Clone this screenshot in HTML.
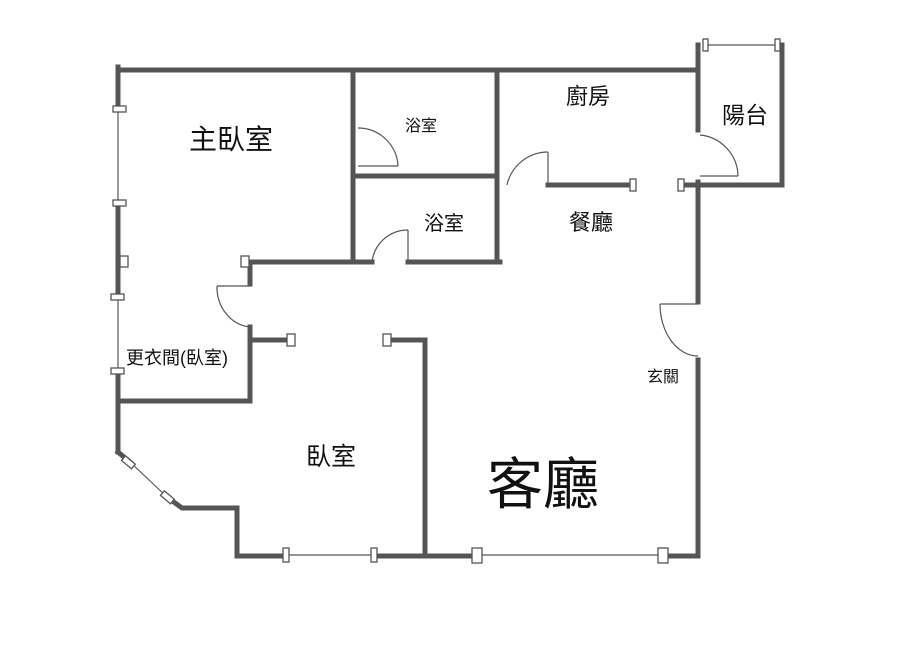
<!DOCTYPE html>
<html><head><meta charset="utf-8"><style>
html,body{margin:0;padding:0;background:#fff;}
svg{display:block}
text{font-family:"Liberation Sans","Noto Sans CJK TC",sans-serif;fill:#111}
</style></head><body>
<svg width="900" height="649" viewBox="0 0 900 649" xmlns="http://www.w3.org/2000/svg">
<g stroke="#555" stroke-width="5" fill="none" stroke-linecap="square">
<!-- top wall -->
<line x1="118" y1="70" x2="698" y2="70"/>
<!-- left wall segments -->
<line x1="118" y1="67" x2="118" y2="110"/>
<line x1="118" y1="204" x2="118" y2="292"/>
<line x1="118" y1="372" x2="118" y2="452"/>
<polyline points="118,452 130,462"/>
<polyline points="167,497 182,508 237,508 237,556 285,556"/>
<line x1="373" y1="556" x2="476" y2="556"/>
<line x1="663" y1="556" x2="698" y2="556"/>
<!-- interior -->
<line x1="353" y1="70" x2="353" y2="262"/>
<line x1="497" y1="70" x2="497" y2="262"/>
<line x1="353" y1="176" x2="497" y2="176"/>
<line x1="250" y1="262" x2="372" y2="262"/>
<line x1="408" y1="262" x2="500" y2="262"/>
<line x1="548" y1="185" x2="632" y2="185"/>
<line x1="682" y1="185" x2="782" y2="185"/>
<line x1="698" y1="70" x2="698" y2="130"/>
<line x1="698" y1="45" x2="698" y2="70"/>
<line x1="782" y1="45" x2="782" y2="185"/>
<line x1="698" y1="182" x2="698" y2="302"/>
<line x1="698" y1="360" x2="698" y2="556"/>
<line x1="250" y1="262" x2="250" y2="284"/>
<line x1="250" y1="327" x2="250" y2="401"/>
<line x1="118" y1="401" x2="250" y2="401"/>
<line x1="250" y1="340" x2="288" y2="340"/>
<polyline points="389,340 425,340 425,556"/>
<line x1="353" y1="128" x2="353" y2="168"/>
</g>
<g stroke="#555" stroke-width="1.2" fill="none">
<!-- windows thin lines -->
<line x1="118" y1="110" x2="118" y2="204"/>
<line x1="118" y1="292" x2="118" y2="372"/>
<line x1="130" y1="462" x2="167" y2="497"/>
<line x1="285" y1="555" x2="373" y2="555"/>
<line x1="476" y1="555" x2="663" y2="555"/>
<line x1="705" y1="45" x2="778" y2="45"/>
<!-- doors -->
<path d="M358,128 A40,40 0 0 1 398,166"/><line x1="358" y1="166" x2="398" y2="166"/>
<path d="M372,262 A36,36 0 0 1 408,230"/><line x1="408" y1="230" x2="408" y2="262"/>
<path d="M507,185 A42,42 0 0 1 548,152"/><line x1="548" y1="152" x2="548" y2="185"/>
<path d="M700,135 A42,42 0 0 1 738,176"/><line x1="700" y1="176" x2="738" y2="176"/>
<path d="M217,286 A36,40 0 0 0 250,327"/><line x1="217" y1="286" x2="250" y2="286"/>
<path d="M660,304 A38,52 0 0 0 698,356"/><line x1="660" y1="304" x2="698" y2="304"/>
</g>
<g fill="#fff" stroke="#555" stroke-width="1.3">
<rect x="113" y="106" width="13" height="6"/>
<rect x="113" y="200" width="13" height="6"/>
<rect x="120" y="256" width="8" height="11"/>
<rect x="111" y="294" width="13" height="6"/>
<rect x="111" y="368" width="13" height="6"/>
<rect x="241" y="256" width="8" height="11"/>
<rect x="287" y="334" width="8" height="12"/>
<rect x="383" y="334" width="8" height="12"/>
<rect x="283" y="548" width="6" height="14"/>
<rect x="371" y="548" width="6" height="14"/>
<rect x="472" y="548" width="10" height="15"/>
<rect x="658" y="548" width="10" height="15"/>
<rect x="630" y="179" width="6" height="12"/>
<rect x="678" y="179" width="6" height="12"/>
<rect x="703" y="39" width="5" height="12"/>
<rect x="775" y="39" width="5" height="12"/>
<rect x="125" y="456" width="6" height="13" transform="rotate(-50 128 462)"/>
<rect x="164" y="491" width="6" height="13" transform="rotate(-50 167 497)"/>
</g>
<text x="189" y="149" font-size="28">主臥室</text>
<text x="405" y="131" font-size="16">浴室</text>
<text x="424" y="230" font-size="20">浴室</text>
<text x="566" y="104" font-size="22">廚房</text>
<text x="722" y="123" font-size="23">陽台</text>
<text x="569" y="230" font-size="22">餐廳</text>
<text x="126" y="364" font-size="18">更衣間(臥室)</text>
<text x="647" y="382" font-size="16">玄關</text>
<text x="306" y="465" font-size="25">臥室</text>
<text x="487" y="504" font-size="56">客廳</text>
</svg>
</body></html>
